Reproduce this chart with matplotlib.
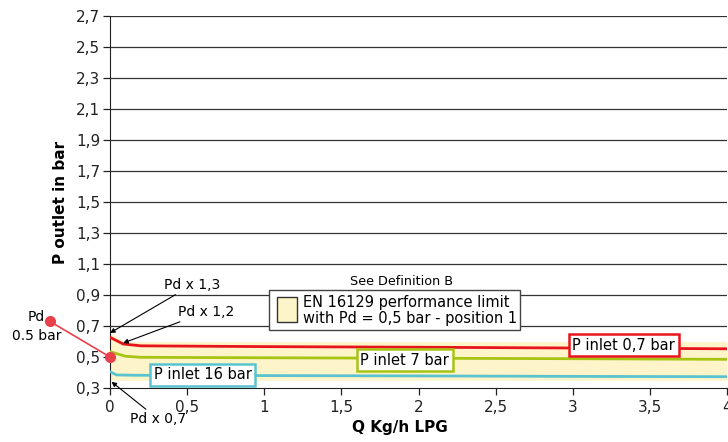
import numpy as np
import matplotlib.pyplot as plt
from matplotlib.patches import Rectangle

# valori
q_red = [0, 0.085, 0.2, 1, 2, 3, 4]
p_red = [0.627, 0.584, 0.572, 0.567, 0.563, 0.558, 0.553]
q_green = [0, 0.1, 0.2, 1, 2, 3, 4]
p_green = [0.534, 0.505, 0.498, 0.495, 0.492, 0.489, 0.485]
q_cyan = [0, 0.043, 0.2, 1, 2, 3, 4]
p_cyan = [0.405, 0.384, 0.382, 0.380, 0.378, 0.375, 0.373]

q_band = [0, 0.09, 4]
band_hi = [0.66, 0.6, 0.6]
band_lo = [0.35, 0.35, 0.35]

y_ticks = [0.3, 0.5, 0.7, 0.9, 1.1, 1.3, 1.5, 1.7, 1.9, 2.1, 2.3, 2.5, 2.7]
x_ticks = [0, 0.5, 1, 1.5, 2, 2.5, 3, 3.5, 4]

def virgola(v):
    s = ('%g' % v)
    return s.replace('.', ',')

plt.rcParams['font.family'] = ['DejaVu Sans']
fig = plt.figure(figsize=(7.28, 4.42), dpi=100)
ax = fig.add_axes([110/728, 54/442, 617/728, 372/442])

ax.set_xlim(0, 4)
ax.set_ylim(0.3, 2.7)
for y in y_ticks[1:]:
    ax.axhline(y, color='#333333', lw=0.9, zorder=1)

ax.fill_between(q_band, band_lo, band_hi, color='#fdf5c9', lw=0, zorder=2)
ax.plot(q_cyan, p_cyan, color='#5bc3d0', lw=2, zorder=3)
ax.plot(q_green, p_green, color='#a6c414', lw=2, zorder=3)
ax.plot(q_red, p_red, color='#e8141c', lw=2, zorder=3)

ax.set_xticks(x_ticks)
ax.set_xticklabels([virgola(v) for v in x_ticks])
ax.set_yticks(y_ticks)
ax.set_yticklabels([virgola(v) for v in y_ticks])
ax.tick_params(labelsize=11, direction='out', length=5, width=0.9, colors='#222222')
ax.tick_params(axis='y', pad=2)
for s in ['top', 'right']:
    ax.spines[s].set_visible(False)
ax.spines['left'].set_color('#222222')
ax.spines['bottom'].set_color('#222222')

ax.set_xlabel('Q Kg/h LPG', fontsize=11, fontweight='bold', labelpad=2)
ax.set_ylabel('P outlet in bar', fontsize=11, fontweight='bold', labelpad=6)
ax.xaxis.set_label_coords(0.47, -0.085)

# etichette delle curve
box = dict(boxstyle='square,pad=0.25', fc='white', lw=1.8)
ax.text(3.33, 0.577, 'P inlet 0,7 bar', fontsize=10.5, ha='center', va='center',
        bbox=dict(box, ec='#e8141c'), zorder=5)
ax.text(1.91, 0.48, 'P inlet 7 bar', fontsize=10.5, ha='center', va='center',
        bbox=dict(box, ec='#a6c414'), zorder=5)
ax.text(0.6, 0.384, 'P inlet 16 bar', fontsize=10.5, ha='center', va='center',
        bbox=dict(box, ec='#5bc3d0'), zorder=5)

# legenda del limite EN 16129
ax.text(1.89, 0.99, 'See Definition B', fontsize=9.2, ha='center', va='center')
ax.add_patch(Rectangle((1.03, 0.674), 2.66 - 1.03, 0.258, fc='white', ec='#444444',
                       lw=1, zorder=4))
ax.add_patch(Rectangle((1.08, 0.725), 0.13, 0.16, fc='#fdf5c9', ec='#333333',
                       lw=1, zorder=5))
ax.text(1.25, 0.80, 'EN 16129 performance limit\nwith Pd = 0,5 bar - position 1',
        fontsize=10.5, ha='left', va='center', linespacing=1.1, zorder=5)

# frecce Pd
arr = dict(arrowstyle='-|>', color='black', lw=0.8, mutation_scale=7)
ax.annotate('Pd x 1,3', xy=(0, 0.655), xytext=(0.35, 0.965), fontsize=10,
            ha='left', va='center', arrowprops=dict(arr, shrinkA=0, shrinkB=0))
ax.annotate('Pd x 1,2', xy=(0.085, 0.59), xytext=(0.44, 0.79), fontsize=10,
            ha='left', va='center', arrowprops=dict(arr, shrinkA=0, shrinkB=0))
ax.annotate('Pd x 0,7', xy=(0.01, 0.34), xytext=(0.13, 0.1), fontsize=10,
            ha='left', va='center', annotation_clip=False,
            arrowprops=dict(arr, shrinkA=0, shrinkB=0))

# punto Pd 0.5 bar
ax.plot([-0.39, 0], [0.73, 0.5], color='#e8414b', lw=1.2, marker='o', ms=7,
        clip_on=False, zorder=6)
ax.text(-0.477, 0.758, 'Pd', fontsize=10, ha='center', va='center')
ax.text(-0.477, 0.635, '0.5 bar', fontsize=10, ha='center', va='center')

fig.savefig('out.png', dpi=100)
